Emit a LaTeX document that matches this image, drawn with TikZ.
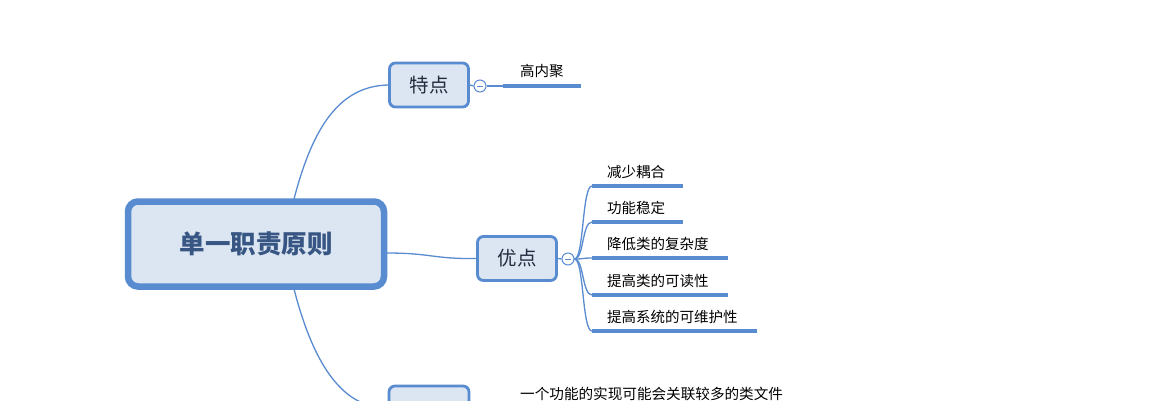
\documentclass[tikz,border=0pt]{standalone}
\usepackage{fontspec}
\usetikzlibrary{calc}
\setmainfont{Noto Sans CJK SC}
\newfontfamily\cjk{Noto Sans CJK SC}
\definecolor{lineblue}{RGB}{88,139,207}
\definecolor{boxfill}{RGB}{220,230,242}
\definecolor{roottext}{RGB}{56,86,132}
\definecolor{boxtext}{RGB}{34,44,62}
\begin{document}
\begin{tikzpicture}[x=1pt,y=-1pt,
  rootbox/.style={draw=lineblue,line width=6.5pt,fill=boxfill,rounded corners=10pt,minimum width=256pt,minimum height=85pt,inner sep=0pt,font=\cjk\fontsize{25.5}{30}\selectfont\bfseries,text=roottext},
  subbox/.style={draw=lineblue,line width=2.8pt,fill=boxfill,rounded corners=6pt,minimum width=79pt,minimum height=44pt,inner sep=0pt,font=\cjk\fontsize{19.5}{24}\selectfont,text=boxtext},
  knob/.style={circle,draw=lineblue,line width=1pt,fill=white,minimum size=12pt,inner sep=0pt},
  conn/.style={draw=lineblue,line width=1.3pt},
  leafline/.style={draw=lineblue,line width=3.8pt},
  leaftext/.style={font=\cjk\fontsize{14.5}{17}\selectfont,text=black,anchor=west,inner sep=0pt}]
\useasboundingbox (0,0) rectangle (1173,400);
\clip (0,0) rectangle (1173,400);
\fill[white] (0,0) rectangle (1173,400);

% root
\node[rootbox] (root) at (256,244) {单一职责原则};
\coordinate (rtop) at (294,199);
\coordinate (rbot) at (294,289);
\coordinate (rright) at (386,253);

% 特点
\node[subbox] (tedian) at (429,85) {特点};
\node[knob] (k1) at (480,86) {};
\coordinate (l1a) at (503,86);
\coordinate (l1b) at (581,86);
\draw[conn] (rtop) .. controls (312,130) and (338,86) .. (tedian.west);
\draw[conn] (tedian.east) -- (k1.west);
\draw[conn] (k1.east) -- (l1a);
\draw[leafline] (l1a) -- (l1b);
\node[leaftext] (t1) at (520,71) {高内聚};
\draw[lineblue,line width=0.8pt] ($(k1.center)+(-3,0)$) -- ($(k1.center)+(3,0)$);

% 优点
\node[subbox] (youdian) at (517,258.5) {优点};
\draw[conn] (rright) .. controls (432,253) and (432,259) .. (youdian.west);
\node[knob] (k2) at (568,259) {};
\draw[conn] (youdian.east) -- (k2.west);
\draw[lineblue,line width=0.8pt] ($(k2.center)+(-3,0)$) -- ($(k2.center)+(3,0)$);

\foreach \i/\y/\xe/\txt in {a/186/683/减少耦合, b/222/683/功能稳定, c/258/728/降低类的复杂度, d/295/728/提高类的可读性, e/331/757/提高系统的可维护性}{
  \coordinate (s\i) at (592,\y);
  \coordinate (e\i) at (\xe,\y);
  \draw[conn] (k2.east) .. controls (584,259) and (582,\y) .. (s\i);
  \draw[leafline] (s\i) -- (e\i);
  \node[leaftext] (n\i) at (607,\y-14.5) {\txt};
}

% 缺点 (cut off)
\node[subbox,minimum width=80pt] (quedian) at (429,408) {};
\draw[conn] (rbot) .. controls (315,370) and (345,408) .. (quedian.west);
\node[leaftext,font=\cjk\fontsize{14.6}{17}\selectfont] (t3) at (520,394) {一个功能的实现可能会关联较多的类文件};
\end{tikzpicture}
\end{document}
